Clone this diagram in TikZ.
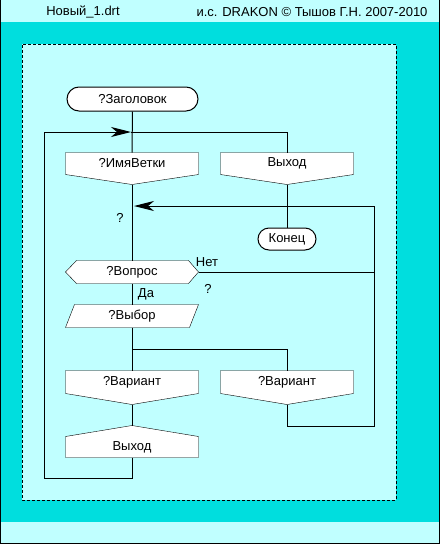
\documentclass[tikz,border=0pt]{standalone}
\usepackage{fontspec}
\setmainfont{Liberation Sans}
\usetikzlibrary{arrows.meta,calc,backgrounds}
\definecolor{sea}{RGB}{0,222,222}
\definecolor{pale}{RGB}{192,255,255}

\begin{document}
\begin{tikzpicture}[x=1pt, y=-1pt, line width=1pt, >={Stealth[length=20pt,width=10pt,inset=6pt]},
		font=\fontsize{13}{15}\selectfont]
				\tikzstyle{label} = [inner sep=0pt]
				\tikzstyle{term} = [draw, fill=white, inner sep=0pt]
				\tikzstyle{box} = [minimum width=132pt, inner sep=0pt]
				\tikzstyle{outline} = [draw, fill=white, line join=miter]
				\useasboundingbox (0,0) rectangle (440,544);
				% page
				\node[label] (file) at (83,12) {Новый\_1.drt};
				\node[label] (sign) at (312,12) {и.с. DRAKON © Тышов Г.Н. 2007-2010};
				% icons
				\node[term, minimum width=131pt, minimum height=24pt, rounded corners=12pt] (head) at (132.5,99) {?Заголовок};
				\node[box, minimum height=21pt] (branch) at (132,163.5) {?ИмяВетки};
				\node[box, minimum height=21pt] (exit1) at (287,163.5) {Выход};
				\node[term, minimum width=58pt, minimum height=22pt, rounded corners=11pt] (end) at (287,239) {Конец};
				\node[box, minimum height=22pt] (quest) at (132,272) {?Вопрос};
				\node[box, minimum height=22pt] (choice) at (132,316) {?Выбор};
				\node[box, minimum height=22pt] (case1) at (132,382) {?Вариант};
				\node[box, minimum height=22pt] (case2) at (287,382) {?Вариант};
				\node[box, minimum height=20pt] (exit2) at (132,447) {Выход};
				\node[label] (q1) at (120,218) {?};
				\node[label] (no) at (207,262) {Нет};
				\node[label] (q2) at (208,289) {?};
				\node[label] (yes) at (146,294.5) {Да};
				% points
				\coordinate (branch tip) at ($(branch.south)+(0,10)$);
				\coordinate (exit1 tip) at ($(exit1.south)+(0,10)$);
				\coordinate (case1 tip) at ($(case1.south)+(0,11)$);
				\coordinate (case2 tip) at ($(case2.south)+(0,11)$);
				\coordinate (exit2 tip) at ($(exit2.north)+(0,-11)$);
				\coordinate (jtop) at (131,132);
				\coordinate (jmid) at (134,206);
				\coordinate (fork) at (132,349);
				\coordinate (lft) at (44,478);
				\coordinate (rgt) at (374,426);
				\begin{scope}[on background layer]
					\fill[pale] (0,0) rectangle (440,544);
					\fill[sea] (0,22) rectangle (440,522);
					\fill[pale] (22,44) rectangle (396,500);
					\draw[dash pattern=on 3pt off 2pt] (22.5,44.5) rectangle (396,500);
					\draw (0.5,0) -- (0.5,543.5) -- (439.5,543.5) -- (439.5,0);
					\draw[outline] (branch.north west) -- (branch.north east) -- (branch.south east)
						-- (branch tip) -- (branch.south west) -- cycle;
					\draw[outline] (exit1.north west) -- (exit1.north east) -- (exit1.south east)
						-- (exit1 tip) -- (exit1.south west) -- cycle;
					\draw[outline] (quest.west) -- ($(quest.north west)+(11,0)$) -- ($(quest.north east)+(-10,0)$)
						-- (quest.east) -- ($(quest.south east)+(-10,0)$) -- ($(quest.south west)+(11,0)$) -- cycle;
					\draw[outline] ($(choice.north west)+(9,0)$) -- (choice.north east)
						-- ($(choice.south east)+(-9,0)$) -- (choice.south west) -- cycle;
					\draw[outline] (case1.north west) -- (case1.north east) -- (case1.south east)
						-- (case1 tip) -- (case1.south west) -- cycle;
					\draw[outline] (case2.north west) -- (case2.north east) -- (case2.south east)
						-- (case2 tip) -- (case2.south west) -- cycle;
					\draw[outline] (exit2 tip) -- ($(exit2.north east)$) -- (exit2.south east)
						-- (exit2.south west) -- (exit2.north west) -- cycle;
				\end{scope}
				% lines
				\draw (head) -- (branch);
				\draw[->] (exit2.south) |- (lft) |- (jtop);
				\draw (jtop) -| (exit1.north);
				\draw (branch tip) -- (quest.north);
				\draw (exit1 tip) -- (end.north);
				\draw[->] (case2 tip) |- (rgt) |- (jmid);
				\draw (quest.east) -- (quest.east -| rgt);
				\draw (quest.south) -- (choice.north);
				\draw (choice.south) -- (case1.north);
				\draw (fork) -| (case2.north);
				\draw (case1 tip) -- (exit2 tip);
			\end{tikzpicture}
\end{document}
